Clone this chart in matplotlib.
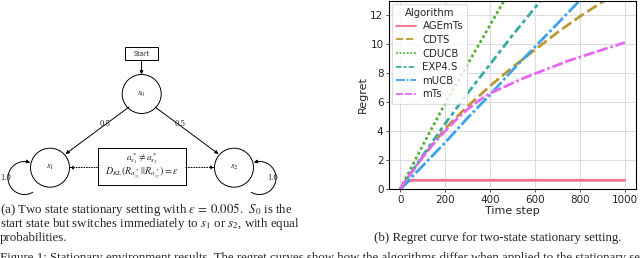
import numpy as np
import matplotlib
matplotlib.use("Agg")
import matplotlib.pyplot as plt
from matplotlib.patches import Circle, Rectangle
import seaborn as sns

# ---------------- data ----------------
steps = [0, 25, 50, 100, 150, 200, 250, 300, 350, 400, 450, 500, 550, 600,
         650, 700, 750, 800, 850, 900, 950, 1000]
agemts = [0, 0.45, 0.6, 0.6, 0.6, 0.6, 0.6, 0.6, 0.6, 0.6, 0.6, 0.6, 0.6, 0.6,
          0.6, 0.6, 0.6, 0.6, 0.6, 0.6, 0.6, 0.6]
cdts = [0, 0.6, 1.15, 2.2, 3.2, 4.15, 4.95, 5.7, 6.4, 7.1, 7.75, 8.4, 9.0, 9.6,
        10.2, 10.8, 11.35, 11.9, 12.4, 12.9, 13.4, 13.9]
cducb = [0, 0.75, 1.5, 3.0, 4.45, 5.9, 7.25, 8.6, 9.95, 11.3, 12.65, 14.0, 15.3,
         16.5, 17.8, 19.0, 20.2, 21.4, 22.6, 23.8, 25.0, 26.2]
exp4s = [0, 0.55, 1.15, 2.3, 3.4, 4.5, 5.55, 6.6, 7.6, 8.6, 9.6, 10.6, 11.55,
         12.5, 13.4, 14.3, 15.2, 16.1, 17.0, 17.9, 18.8, 19.7]
mucb = [0, 0.35, 0.8, 1.6, 2.4, 3.2, 4.05, 4.9, 5.7, 6.5, 7.35, 8.2, 9.0, 9.8,
        10.6, 11.4, 12.2, 13.0, 13.8, 14.6, 15.4, 16.2]
mts = [0, 0.6, 1.15, 2.2, 3.15, 4.0, 4.8, 5.5, 6.1, 6.6, 6.95, 7.3, 7.65, 7.95,
       8.25, 8.55, 8.85, 9.1, 9.35, 9.6, 9.85, 10.1]
algorithms = ["AGEmTs", "CDTS", "CDUCB", "EXP4.S", "mUCB", "mTs"]
series = [agemts, cdts, cducb, exp4s, mucb, mts]
xticks = [0, 200, 400, 600, 800, 1000]
yticks = [0, 2, 4, 6, 8, 10, 12]

sns.set_style("whitegrid")
plt.rcParams['font.family'] = ['DejaVu Sans']
plt.rcParams['mathtext.fontset'] = 'stix'

W, H = 640, 258
fig = plt.figure(figsize=(W / 100, H / 100), dpi=100)

# ---------------- overlay for diagram and captions ----------------
ov = fig.add_axes([0, 0, 1, 1])
ov.set_xlim(0, W)
ov.set_ylim(H, 0)
ov.axis('off')
ov.set_zorder(0)

serif = 'Liberation Serif'
lw_d = 0.7
arr = dict(arrowstyle='-|>', lw=lw_d, color='black', mutation_scale=5,
           shrinkA=0, shrinkB=0)

# Start box
ov.add_patch(Rectangle((125, 47), 33, 13, fill=False, lw=lw_d, ec='black'))
ov.text(141.5, 53.5, "Start", ha='center', va='center', fontsize=4.8)
ov.annotate("", xy=(141.5, 74.5), xytext=(141.5, 60), arrowprops=arr)

r = 19.5
centers = {"s0": (141.7, 94), "s1": (50, 167.7), "s2": (234, 167.7)}
labels = {"s0": r"$s_0$", "s1": r"$s_1$", "s2": r"$s_2$"}
for k, (cx, cy) in centers.items():
    ov.add_patch(Circle((cx, cy), r, fill=False, lw=lw_d, ec='black'))
    ov.text(cx, cy, labels[k], ha='center', va='center', fontsize=6.5)

# arrows s0 -> s1, s0 -> s2
ov.annotate("", xy=(65.5, 154), xytext=(129, 107), arrowprops=arr)
ov.annotate("", xy=(218.5, 154), xytext=(155, 107), arrowprops=arr)
ov.text(105, 123.5, "0.5", ha='center', va='center', fontsize=6.2, family=serif)
ov.text(180, 123.5, "0.5", ha='center', va='center', fontsize=6.2, family=serif)

# KL box
ov.add_patch(Rectangle((97.7, 148.3), 88.3, 37, fill=False, lw=lw_d, ec='black'))
ov.text(141.8, 158.3, r"$a^*_{s_1} \neq a^*_{s_2}$", ha='center', va='center',
        fontsize=6.8)
ov.text(141.8, 173, r"$D_{KL}(R_{a^*_{s_1}}\,||R_{a^*_{s_2}}) = \varepsilon$",
        ha='center', va='center', fontsize=7.2)

# dotted arrows
darr = dict(arr, ls=':')
ov.annotate("", xy=(69.5, 167.5), xytext=(97.7, 167.5), arrowprops=darr)
ov.annotate("", xy=(214.5, 167.5), xytext=(186, 167.5), arrowprops=darr)

# self loops
def loop(cx, cy, rr, t0, t1, axx):
    t = np.linspace(np.radians(t0), np.radians(t1), 80)
    xs = cx + rr * np.cos(t)
    ys = cy + rr * np.sin(t)
    axx.plot(xs[:-3], ys[:-3], color='black', lw=lw_d)
    axx.annotate("", xy=(xs[-1], ys[-1]), xytext=(xs[-4], ys[-4]), arrowprops=arr)

loop(24.5, 178, 16.5, 60, 290, ov)      # s1 (y inverted)
loop(259.5, 178, 16.5, 120, -110, ov)   # s2
ov.text(6, 178.5, "1.0", ha='center', va='center', fontsize=6.2, family=serif)
ov.text(272.5, 178.5, "1.0", ha='center', va='center', fontsize=6.2, family=serif)

# captions
cap_fs = 9.3
ov.text(0, 210, r"(a) Two state stationary setting with $\epsilon\,=\,0.005$.  $S_0$ is the",
        ha='left', va='center', fontsize=cap_fs, family=serif)
ov.text(0, 224.5, r"start state but switches immediately to $s_1$ or $s_2$, with equal",
        ha='left', va='center', fontsize=cap_fs, family=serif)
ov.text(0, 237.5, "probabilities.", ha='left', va='center', fontsize=cap_fs, family=serif)
ov.text(498, 238, "(b) Regret curve for two-state stationary setting.",
        ha='center', va='center', fontsize=cap_fs, family=serif)
ov.text(0, 252.5, "Figure 1: Stationary environment results. The regret curves show how the algorithms differ when applied to the stationary setting over time.",
        ha='left', va='top', fontsize=cap_fs, family=serif, clip_on=True)

# ---------------- chart ----------------
ax = fig.add_axes([389 / W, (H - 189) / H, (636 - 389) / W, 188.5 / H])
ax.set_zorder(1)
colors = sns.color_palette("husl", 6)
dashes = [(None, None), (4, 1.5), (1, 1), (3, 1.25, 1.5, 1.25), (5, 1, 1, 1),
          (4, 1, 4, 1, 1, 1)]
for name, vals, c, d in zip(algorithms, series, colors, dashes):
    line, = ax.plot(steps, vals, color=c, lw=2.0, label=name)
    if d[0] is not None:
        line.set_dashes(d)

ax.set_xlim(-50, 1050)
ax.set_ylim(0, 13)
ax.set_xticks(xticks)
ax.set_yticks(yticks)
ax.tick_params(labelsize=7.5, length=2.5, width=0.6, pad=1.5, color='#333333')
ax.tick_params(axis='both', which='major', left=True, bottom=True)
ax.set_xlabel("Time step", fontsize=8, labelpad=1)
ax.set_ylabel("Regret", fontsize=8, labelpad=2)
for s in ax.spines.values():
    s.set_color('black')
    s.set_linewidth(0.8)
ax.grid(True, color='#dddddd', lw=0.8)
leg = ax.legend(title="Algorithm", loc='upper left', fontsize=7.3,
                title_fontsize=7.3, frameon=True, borderpad=0.4,
                labelspacing=0.36, handlelength=2.0, handletextpad=0.6,
                borderaxespad=0.3)
for h in leg.get_lines():
    h.set_linewidth(1.3)
leg.get_frame().set_linewidth(0.6)

fig.savefig("out.png", dpi=100)
